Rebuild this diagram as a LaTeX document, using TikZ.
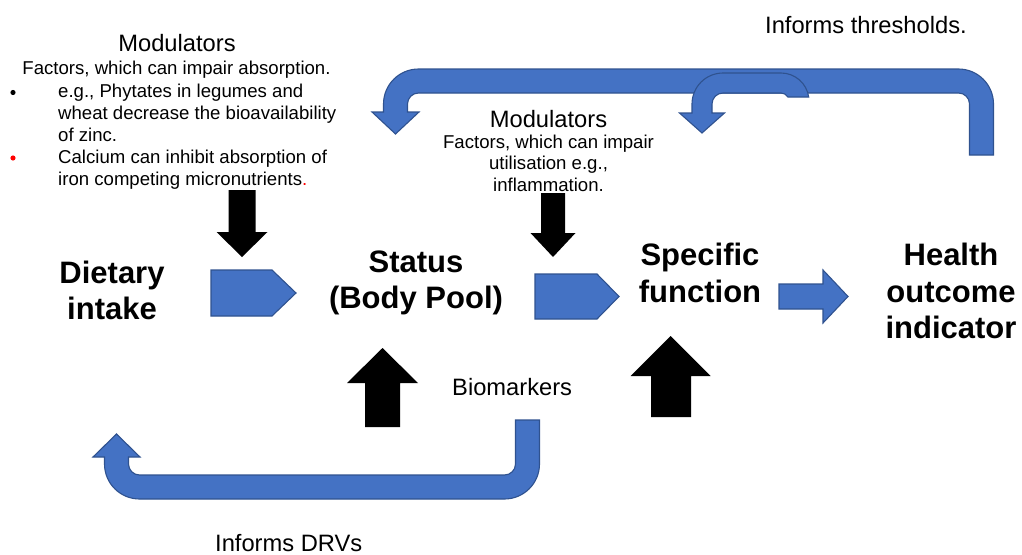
\documentclass[tikz,border=0pt]{standalone}
\usepackage{fontspec}
\setmainfont{Liberation Sans}
\definecolor{blu}{HTML}{4472C4}
\definecolor{bluedge}{HTML}{2F528F}
\begin{document}
\begin{tikzpicture}[x=1pt,y=1pt,
  bluearrow/.style={fill=blu, draw=bluedge, line width=1.1pt, line join=miter},
  blackarrow/.style={fill=black},
  big/.style={font=\fontsize{31}{36}\selectfont\bfseries, inner sep=0, anchor=base},
  mod/.style={font=\fontsize{23.7}{28}\selectfont, inner sep=0},
  small/.style={font=\fontsize{18.6}{22}\selectfont, inner sep=0}]
\useasboundingbox (0,0) rectangle (1022,-554);

% top big U-turn arrow (Informs thresholds)
\draw[bluearrow] (969.5,-155) -- (969.5,-104) arc[start angle=0,end angle=90,radius=11]
  -- (418.5,-93) arc[start angle=90,end angle=180,radius=11]
  -- (407.5,-112) -- (419,-112) -- (395.5,-134) -- (372,-112) -- (383.5,-112)
  -- (383.5,-104) arc[start angle=180,end angle=90,radius=35]
  -- (958.5,-69) arc[start angle=90,end angle=0,radius=35]
  -- (993.5,-155) -- cycle;

% inner small U-turn arrow
\draw[bluearrow] (702,-133) -- (724.5,-113) -- (712,-113) -- (712,-104)
  arc[start angle=180,end angle=90,radius=11]
  -- (781,-93) arc[start angle=90,end angle=30,radius=8]
  -- (808.7,-97) arc[start angle=8.2,end angle=90,radius=28]
  -- (723,-73) arc[start angle=90,end angle=180,radius=31]
  -- (692,-113) -- (679.5,-113) -- cycle;

% bottom U-turn arrow (Informs DRVs)
\draw[bluearrow] (515.5,-420) -- (515.5,-464) arc[start angle=0,end angle=-90,radius=11]
  -- (139.5,-475) arc[start angle=270,end angle=180,radius=11]
  -- (128.5,-457) -- (140,-457) -- (116.5,-434) -- (93,-457) -- (104.5,-457)
  -- (104.5,-464) arc[start angle=180,end angle=270,radius=35]
  -- (504.5,-499) arc[start angle=270,end angle=360,radius=35]
  -- (539.5,-420) -- cycle;

% pentagons
\draw[bluearrow] (211,-270) -- (272,-270) -- (296,-293) -- (272,-316) -- (211,-316) -- cycle;
\draw[bluearrow] (535,-274) -- (597,-274) -- (619,-296.5) -- (597,-319) -- (535,-319) -- cycle;

% right block arrow
\draw[bluearrow] (779,-284) -- (823,-284) -- (823,-270) -- (848,-296.5) -- (823,-323)
  -- (823,-309) -- (779,-309) -- cycle;

% black arrows
\fill[blackarrow] (228.5,-190) -- (255.5,-190) -- (255.5,-232) -- (267.5,-232) -- (242,-257)
  -- (216.5,-232) -- (228.5,-232) -- cycle;
\fill[blackarrow] (541,-193) -- (565,-193) -- (565,-233) -- (575.5,-233) -- (553,-257)
  -- (530.5,-233) -- (541,-233) -- cycle;
\fill[blackarrow] (365,-427) -- (400,-427) -- (400,-383) -- (418,-383) -- (382.5,-348)
  -- (347,-383) -- (365,-383) -- cycle;
\fill[blackarrow] (651,-417) -- (691,-417) -- (691,-376) -- (710.5,-376) -- (670.5,-336)
  -- (630.5,-376) -- (651,-376) -- cycle;

% top-left modulators
\node[mod, anchor=base] (mod1) at (177,-51) {Modulators};
\node[small, anchor=base] (fac1) at (176.5,-74) {Factors, which can impair absorption.};
\fill (13,-92.5) circle (2.6);
\fill[red] (13,-158) circle (2.6);
\node[small, anchor=base west] (b1a) at (58,-97) {e.g., Phytates in legumes and};
\node[small, anchor=base west] (b1b) at (58,-119) {wheat decrease the bioavailability};
\node[small, anchor=base west] (b1c) at (58,-141) {of zinc.};
\node[small, anchor=base west] (b2a) at (58,-163) {Calcium can inhibit absorption of};
\node[small, anchor=base west] (b2b) at (58,-185) {iron competing micronutrients\textcolor{red}{.}};

% middle modulators
\node[mod, anchor=base] (mod2) at (548.5,-127) {Modulators};
\node[small, anchor=base] (fac2a) at (548.5,-148.5) {Factors, which can impair};
\node[small, anchor=base] (fac2b) at (548.5,-169.5) {utilisation e.g.,};
\node[small, anchor=base] (fac2c) at (548.5,-191) {inflammation.};

% other labels
\node[mod, anchor=base west] (thr) at (765,-33) {Informs thresholds.};
\node[mod, anchor=base west] (bio) at (452,-395) {Biomarkers};
\node[mod, anchor=base west] (drv) at (215,-551) {Informs DRVs};

% main stages
\node[big] (diet1) at (112,-283) {Dietary};
\node[big] (diet2) at (112,-319) {intake};
\node[big] (stat1) at (416,-272) {Status};
\node[big] (stat2) at (416,-308) {(Body Pool)};
\node[big] (spec1) at (700,-265) {Specific};
\node[big] (spec2) at (700,-302) {function};
\node[big] (hl1) at (951,-265) {Health};
\node[big] (hl2) at (951,-302) {outcome};
\node[big] (hl3) at (951,-338) {indicator};
\end{tikzpicture}
\end{document}
